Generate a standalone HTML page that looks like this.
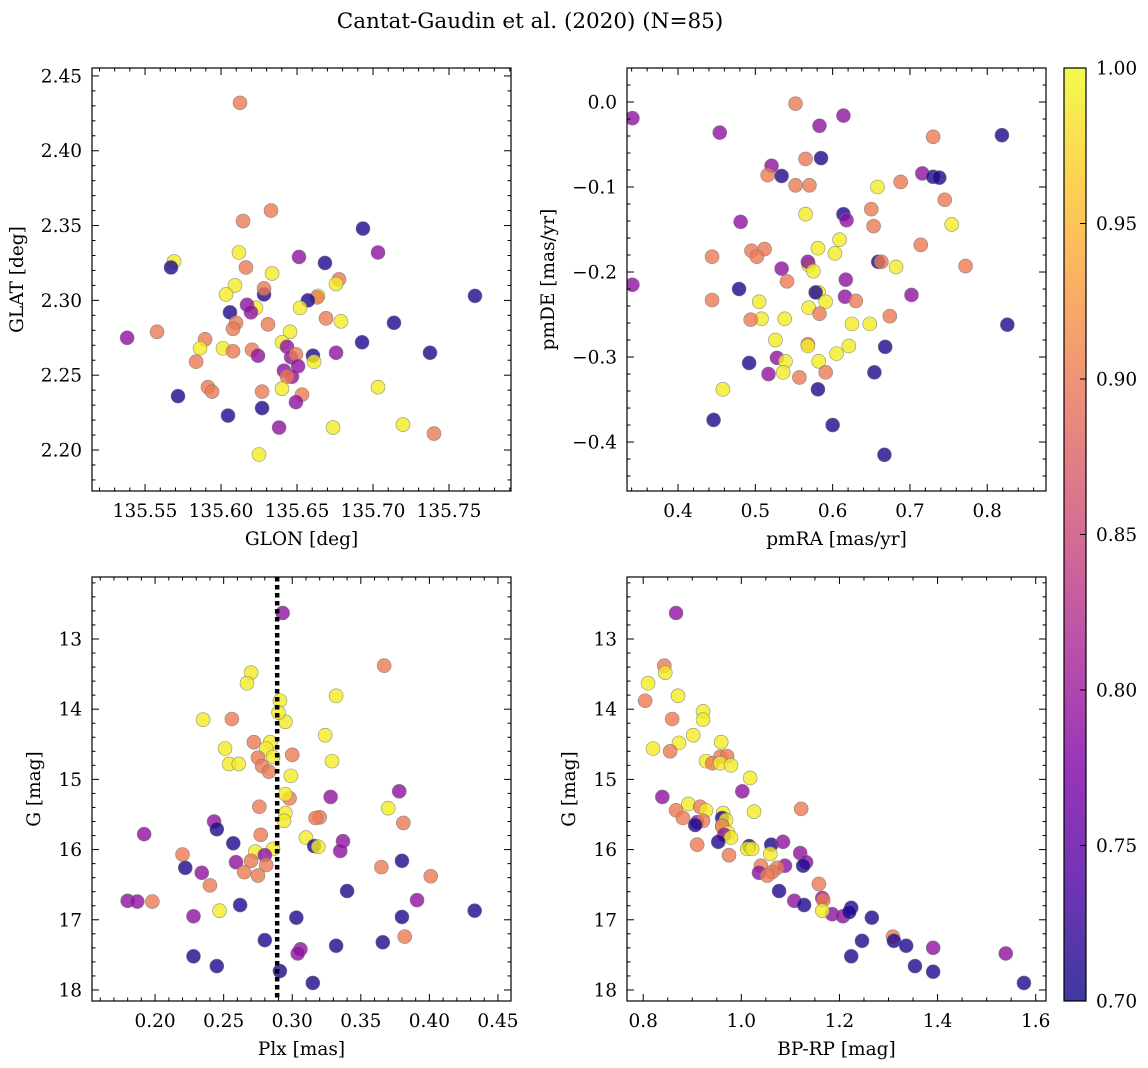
<!DOCTYPE html>
<html><head><meta charset="utf-8">
<style>
html,body{margin:0;padding:0;background:#fff;}
svg{display:block;font-family:"DejaVu Serif","Liberation Serif",serif;}
</style></head>
<body>
<svg id="fig" width="1148" height="1068" viewBox="0 0 1148 1068">
<defs>
<linearGradient id="cbgrad" x1="0" y1="1" x2="0" y2="0">
<stop offset="0" stop-color="#0d0887"/>
<stop offset="0.125" stop-color="#4c02a1"/>
<stop offset="0.25" stop-color="#7e03a8"/>
<stop offset="0.375" stop-color="#a92395"/>
<stop offset="0.5" stop-color="#cc4778"/>
<stop offset="0.625" stop-color="#e56b5d"/>
<stop offset="0.75" stop-color="#f89540"/>
<stop offset="0.875" stop-color="#fdc527"/>
<stop offset="1" stop-color="#f0f921"/>
</linearGradient>
</defs>
<text x="530" y="28" text-anchor="middle" font-size="21.5">Cantat-Gaudin et al. (2020) (N=85)</text>
</svg>
<script>
// ---- Panel 1 data: GLON / GLAT ----
const p1Glon = [135.6125,135.6145,135.6329,135.6934,135.7033,135.6118,135.5691,135.5671,135.6513,135.6684,135.6336,135.6164,135.6092,135.6283,135.6283,135.6033,135.6776,135.6757,135.6638,135.6632,135.6572,135.652,135.7671,135.623,135.6171,135.6059,135.6197,135.6099,135.6309,135.6691,135.6789,135.7138,135.6454,135.6079,135.5382,135.5579,135.5895,135.6401,135.6434,135.5862,135.6013,135.6079,135.6204,135.6243,135.6461,135.6493,135.6605,135.6757,135.6612,135.6928,135.5836,135.6507,135.6414,135.6467,135.6434,135.7375,135.5914,135.5717,135.5941,135.627,135.6401,135.6533,135.6493,135.7033,135.6046,135.627,135.6382,135.6737,135.7197,135.7401,135.625];
const p1Glat = [2.432,2.353,2.360,2.348,2.332,2.332,2.326,2.322,2.329,2.325,2.318,2.322,2.310,2.304,2.308,2.304,2.314,2.311,2.303,2.302,2.300,2.295,2.303,2.295,2.297,2.292,2.292,2.285,2.284,2.288,2.286,2.285,2.279,2.281,2.275,2.279,2.274,2.272,2.269,2.268,2.268,2.266,2.267,2.263,2.262,2.264,2.263,2.265,2.259,2.272,2.259,2.256,2.253,2.249,2.249,2.265,2.242,2.236,2.239,2.239,2.241,2.237,2.232,2.242,2.223,2.228,2.215,2.215,2.217,2.211,2.197];
const p1Prob = [0.90,0.90,0.90,0.71,0.79,0.99,0.99,0.71,0.79,0.71,0.99,0.90,0.99,0.71,0.90,0.99,0.90,0.99,0.99,0.90,0.71,0.99,0.71,0.99,0.79,0.71,0.79,0.90,0.90,0.90,0.99,0.71,0.99,0.90,0.79,0.90,0.90,0.99,0.79,0.99,0.99,0.90,0.90,0.79,0.79,0.90,0.71,0.79,0.99,0.71,0.90,0.79,0.79,0.79,0.90,0.71,0.90,0.71,0.90,0.90,0.99,0.90,0.79,0.99,0.71,0.71,0.79,0.99,0.99,0.90,0.99];

// ---- Panel 2 data: pmRA / pmDE ----
const p2PmRA = [0.341,0.454,0.552,0.583,0.614,0.730,0.819,0.521,0.516,0.534,0.565,0.585,0.552,0.570,0.716,0.730,0.738,0.688,0.658,0.745,0.754,0.481,0.565,0.614,0.618,0.650,0.653,0.714,0.609,0.603,0.581,0.495,0.512,0.502,0.444,0.569,0.534,0.568,0.659,0.663,0.682,0.772,0.575,0.617,0.541,0.341,0.479,0.582,0.578,0.616,0.702,0.630,0.444,0.505,0.508,0.494,0.538,0.569,0.591,0.583,0.625,0.648,0.674,0.526,0.568,0.568,0.621,0.668,0.605,0.528,0.492,0.539,0.582,0.591,0.517,0.536,0.557,0.654,0.826,0.458,0.581,0.446,0.600,0.667];
const p2PmDE = [-0.019,-0.036,-0.002,-0.028,-0.016,-0.041,-0.039,-0.075,-0.086,-0.087,-0.067,-0.066,-0.098,-0.098,-0.084,-0.088,-0.089,-0.094,-0.100,-0.115,-0.144,-0.141,-0.132,-0.132,-0.139,-0.126,-0.146,-0.168,-0.162,-0.178,-0.172,-0.175,-0.173,-0.182,-0.182,-0.192,-0.196,-0.188,-0.188,-0.188,-0.194,-0.193,-0.199,-0.209,-0.211,-0.215,-0.220,-0.224,-0.224,-0.229,-0.227,-0.234,-0.233,-0.235,-0.255,-0.256,-0.255,-0.242,-0.235,-0.249,-0.261,-0.261,-0.252,-0.280,-0.285,-0.287,-0.287,-0.288,-0.296,-0.301,-0.307,-0.305,-0.305,-0.318,-0.320,-0.318,-0.324,-0.318,-0.262,-0.338,-0.338,-0.374,-0.380,-0.415];
const p2Prob = [0.79,0.79,0.90,0.79,0.79,0.90,0.71,0.79,0.90,0.71,0.90,0.71,0.90,0.90,0.79,0.71,0.71,0.90,0.99,0.90,0.99,0.79,0.99,0.71,0.79,0.90,0.90,0.90,0.99,0.99,0.99,0.90,0.90,0.90,0.90,0.99,0.79,0.79,0.71,0.90,0.99,0.90,0.99,0.79,0.90,0.79,0.71,0.99,0.71,0.79,0.79,0.90,0.90,0.99,0.99,0.90,0.99,0.99,0.99,0.90,0.99,0.99,0.90,0.99,0.90,0.99,0.99,0.71,0.99,0.79,0.71,0.99,0.99,0.90,0.79,0.99,0.90,0.71,0.71,0.99,0.71,0.71,0.71,0.71];

// ---- Panel 3 data: Plx / G ----
const p3Plx = [0.293,0.367,0.270,0.267,0.332,0.291,0.235,0.256,0.295,0.290,0.324,0.300,0.272,0.284,0.281,0.251,0.275,0.286,0.278,0.329,0.254,0.261,0.283,0.299,0.298,0.328,0.378,0.370,0.295,0.295,0.294,0.320,0.317,0.276,0.243,0.245,0.381,0.277,0.192,0.310,0.337,0.257,0.316,0.319,0.286,0.273,0.335,0.280,0.220,0.270,0.259,0.281,0.222,0.380,0.365,0.265,0.234,0.275,0.401,0.240,0.340,0.391,0.180,0.187,0.198,0.262,0.247,0.433,0.228,0.303,0.380,0.280,0.306,0.304,0.332,0.366,0.382,0.228,0.245,0.291,0.315];
const p3G = [12.63,13.38,13.48,13.63,13.81,13.88,14.15,14.14,14.18,14.05,14.37,14.65,14.47,14.47,14.56,14.56,14.69,14.68,14.81,14.74,14.78,14.78,14.89,14.95,15.27,15.25,15.17,15.41,15.21,15.48,15.59,15.54,15.55,15.39,15.60,15.71,15.62,15.79,15.78,15.83,15.88,15.91,15.95,15.96,15.99,16.03,16.02,16.08,16.07,16.16,16.18,16.22,16.26,16.16,16.25,16.32,16.33,16.37,16.38,16.51,16.59,16.72,16.73,16.74,16.74,16.79,16.87,16.87,16.95,16.97,16.96,17.29,17.42,17.48,17.37,17.32,17.24,17.52,17.66,17.73,17.90];
const p3Prob = [0.79,0.90,0.99,0.99,0.99,0.99,0.99,0.90,0.99,0.99,0.99,0.90,0.90,0.99,0.99,0.99,0.90,0.99,0.90,0.99,0.99,0.99,0.90,0.99,0.90,0.79,0.79,0.99,0.99,0.99,0.99,0.90,0.90,0.90,0.79,0.71,0.90,0.90,0.79,0.99,0.79,0.71,0.71,0.99,0.99,0.99,0.79,0.79,0.90,0.90,0.79,0.90,0.71,0.71,0.90,0.90,0.79,0.90,0.90,0.90,0.71,0.79,0.79,0.79,0.90,0.71,0.99,0.71,0.79,0.71,0.71,0.71,0.79,0.79,0.71,0.71,0.90,0.71,0.71,0.71,0.71];
const plxMean = [0.289];

// ---- Panel 4 data: BP-RP / G ----
const p4BpRp = [0.867,0.843,0.845,0.810,0.871,0.804,0.922,0.859,0.922,0.902,0.820,0.873,0.855,0.959,0.957,0.971,0.928,0.941,0.957,0.979,1.018,0.839,1.002,0.892,0.916,0.867,0.928,1.026,1.122,0.963,0.961,0.969,0.881,0.910,0.922,0.961,0.906,0.961,0.973,0.965,0.979,0.953,0.910,1.061,1.085,1.016,1.012,1.022,1.120,1.059,0.975,1.132,1.089,1.126,1.040,1.073,1.063,1.036,1.053,1.077,1.158,1.165,1.167,1.108,1.128,1.185,1.207,1.224,1.220,1.165,1.266,1.309,1.311,1.246,1.336,1.391,1.539,1.224,1.354,1.391,1.576];
const p4G = [12.63,13.38,13.48,13.63,13.81,13.88,14.03,14.14,14.15,14.37,14.56,14.48,14.60,14.47,14.68,14.67,14.74,14.77,14.77,14.80,14.98,15.25,15.17,15.35,15.39,15.44,15.44,15.46,15.42,15.48,15.55,15.58,15.55,15.61,15.59,15.66,15.65,15.67,15.76,15.79,15.83,15.89,15.93,15.93,15.89,15.95,15.99,15.99,16.05,16.06,16.08,16.18,16.23,16.23,16.23,16.26,16.32,16.33,16.37,16.59,16.49,16.69,16.72,16.73,16.79,16.92,16.95,16.83,16.89,16.87,16.97,17.24,17.30,17.30,17.37,17.40,17.48,17.52,17.66,17.74,17.90];
const p4Prob = [0.79,0.90,0.99,0.99,0.99,0.90,0.99,0.90,0.99,0.99,0.99,0.99,0.90,0.99,0.90,0.90,0.99,0.90,0.99,0.99,0.99,0.79,0.79,0.99,0.90,0.90,0.99,0.99,0.90,0.99,0.71,0.99,0.90,0.79,0.90,0.99,0.71,0.90,0.99,0.79,0.99,0.71,0.90,0.71,0.79,0.71,0.99,0.99,0.79,0.99,0.90,0.79,0.79,0.71,0.90,0.90,0.90,0.79,0.90,0.71,0.90,0.79,0.90,0.79,0.71,0.79,0.79,0.71,0.71,0.99,0.71,0.90,0.71,0.71,0.71,0.79,0.79,0.71,0.71,0.71,0.71];

// ---- Colorbar ticks ----
const cbTicks = [0.70,0.75,0.80,0.85,0.90,0.95,1.00];

const NS = "http://www.w3.org/2000/svg";
const svg = document.getElementById('fig');
const FS = 18.5;
function mk(tag, attrs, parent){
  const e = document.createElementNS(NS, tag);
  for (const k in attrs) e.setAttribute(k, attrs[k]);
  (parent||svg).appendChild(e);
  return e;
}
const plasma = [[13,8,135],[76,2,161],[126,3,168],[169,35,149],[204,71,120],[229,107,93],[248,149,64],[253,197,39],[240,249,33]];
function cmap(v){
  let t = (v-0.7)/0.3; t = Math.max(0, Math.min(1, t));
  const f = t*(plasma.length-1); const i = Math.min(plasma.length-2, Math.floor(f)); const u = f-i;
  const c = plasma[i].map((a,k)=>Math.round(a+(plasma[i+1][k]-a)*u));
  return 'rgb('+c.join(',')+')';
}
function fmt(v, d){
  const s = Math.abs(v).toFixed(d);
  return (v < -1e-9 ? '\u2212' : '') + s;
}

function panel(cfg){
  const g = mk('g', {});
  
  
  const L=cfg.box[0], T=cfg.box[1], R=cfg.box[2], B=cfg.box[3];
  const sx = v => L + (v-cfg.xmin)/(cfg.xmax-cfg.xmin)*(R-L);
  const sy = cfg.invert ? (v => T + (v-cfg.ymin)/(cfg.ymax-cfg.ymin)*(B-T)) : (v => B - (v-cfg.ymin)/(cfg.ymax-cfg.ymin)*(B-T));
  const clipId = 'clip-'+cfg.name;
  const cp = mk('clipPath', {id: clipId}, g);
  mk('rect', {x:L, y:T, width:R-L, height:B-T}, cp);
  const pts = mk('g', {'clip-path':'url(#'+clipId+')'}, g);
  
  
  for (let i=0;i<cfg.xs.length;i++){
    const c = mk('circle', {cx:sx(cfg.xs[i]), cy:sy(cfg.ys[i]), r:7, fill:cmap(cfg.cs[i]), 'fill-opacity':0.8, stroke:'#777', 'stroke-width':0.6, 'stroke-opacity':0.8}, pts);
    
    
  }
  if (cfg.vline){
    const vl = mk('line', {x1:sx(cfg.vline[0]), x2:sx(cfg.vline[0]), y1:T, y2:B, stroke:'#000', 'stroke-width':4.5, 'stroke-dasharray':'4.5,3.5'}, pts);
    
    
  }
  const tk = mk('g', {stroke:'#000', 'stroke-width':1}, g);
  const eps = 1e-9;
  for (let v=Math.ceil(cfg.xmin/cfg.xminor-eps)*cfg.xminor; v<=cfg.xmax+eps; v+=cfg.xminor){
    const X = sx(v);
    const major = Math.abs(Math.round(v/cfg.xmajor)*cfg.xmajor - v) < cfg.xminor*0.1;
    const len = major?7:3.5;
    mk('line',{x1:X,x2:X,y1:B,y2:B-len},tk); mk('line',{x1:X,x2:X,y1:T,y2:T+len},tk);
  }
  for (let v=Math.ceil(Math.min(cfg.ymin,cfg.ymax)/cfg.yminor-eps)*cfg.yminor; v<=Math.max(cfg.ymin,cfg.ymax)+eps; v+=cfg.yminor){
    const Y = sy(v);
    const major = Math.abs(Math.round(v/cfg.ymajor)*cfg.ymajor - v) < cfg.yminor*0.1;
    const len = major?7:3.5;
    mk('line',{x1:L,x2:L+len,y1:Y,y2:Y},tk); mk('line',{x1:R,x2:R-len,y1:Y,y2:Y},tk);
  }
  const frame = mk('rect',{x:L,y:T,width:R-L,height:B-T,fill:'none',stroke:'#000','stroke-width':1.2},g);
  
  
  for (const v of cfg.xticks){
    const t = mk('text',{x:sx(v), y:B+26, 'text-anchor':'middle','font-size':FS},g);
    t.textContent = fmt(v, cfg.xdec);
    
    
  }
  for (const v of cfg.yticks){
    const t = mk('text',{x:L-10, y:sy(v)+6.5, 'text-anchor':'end','font-size':FS},g);
    t.textContent = fmt(v, cfg.ydec);
    
    
  }
  const xt = mk('text',{x:(L+R)/2, y:B+54, 'text-anchor':'middle','font-size':FS},g);
  xt.textContent = cfg.xlabel;
  
  
  const yx = cfg.ylabX, yy=(T+B)/2;
  const yt = mk('text',{x:yx, y:yy, 'text-anchor':'middle','font-size':FS, transform:'rotate(-90 '+yx+' '+yy+')'},g);
  yt.textContent = cfg.ylabel;
  
  
}

panel({name:'glon-glat-panel', box:[92,68,511,491], xmin:135.5151, xmax:135.7908, ymin:2.1726, ymax:2.4553,
  xs:p1Glon, ys:p1Glat, cs:p1Prob, xmajor:0.05, xminor:0.01, ymajor:0.05, yminor:0.01,
  xticks:[135.55,135.60,135.65,135.70,135.75], yticks:[2.20,2.25,2.30,2.35,2.40,2.45], xdec:2, ydec:2,
  xlabel:'GLON [deg]', ylabel:'GLAT [deg]', ylabX:23});
panel({name:'proper-motion-panel', box:[627,68,1046,491], xmin:0.334, xmax:0.876, ymin:-0.4576, ymax:0.04,
  xs:p2PmRA, ys:p2PmDE, cs:p2Prob, xmajor:0.1, xminor:0.02, ymajor:0.1, yminor:0.02,
  xticks:[0.4,0.5,0.6,0.7,0.8], yticks:[-0.4,-0.3,-0.2,-0.1,0], xdec:1, ydec:1,
  xlabel:'pmRA [mas/yr]', ylabel:'pmDE [mas/yr]', ylabX:554});
panel({name:'parallax-mag-panel', box:[92,577,511,1001], xmin:0.154, xmax:0.4595, ymin:12.117, ymax:18.157, invert:true,
  xs:p3Plx, ys:p3G, cs:p3Prob, xmajor:0.05, xminor:0.01, ymajor:1, yminor:0.2, vline:plxMean,
  xticks:[0.20,0.25,0.30,0.35,0.40,0.45], yticks:[13,14,15,16,17,18], xdec:2, ydec:0,
  xlabel:'Plx [mas]', ylabel:'G [mag]', ylabX:40});
panel({name:'cmd-panel', box:[627,577,1046,1001], xmin:0.767, xmax:1.621, ymin:12.117, ymax:18.157, invert:true,
  xs:p4BpRp, ys:p4G, cs:p4Prob, xmajor:0.2, xminor:0.05, ymajor:1, yminor:0.2,
  xticks:[0.8,1.0,1.2,1.4,1.6], yticks:[13,14,15,16,17,18], xdec:1, ydec:0,
  xlabel:'BP-RP [mag]', ylabel:'G [mag]', ylabX:575});

const cb = mk('g',{});


const cT=68, cB=1001, cL=1064, cR=1086;
mk('rect',{x:cL,y:cT,width:cR-cL,height:cB-cT,fill:'url(#cbgrad)','fill-opacity':0.8},cb);
mk('rect',{x:cL,y:cT,width:cR-cL,height:cB-cT,fill:'none',stroke:'#000','stroke-width':1.2},cb);
for (const v of cbTicks){
  const Y = cB - (v-0.7)/0.3*(cB-cT);
  mk('line',{x1:cR,x2:cR-6,y1:Y,y2:Y,stroke:'#000'},cb);
  const t = mk('text',{x:cR+10,y:Y+6.5,'font-size':FS},cb);
  t.textContent = v.toFixed(2);
  
  
}
</script>
</body></html>
